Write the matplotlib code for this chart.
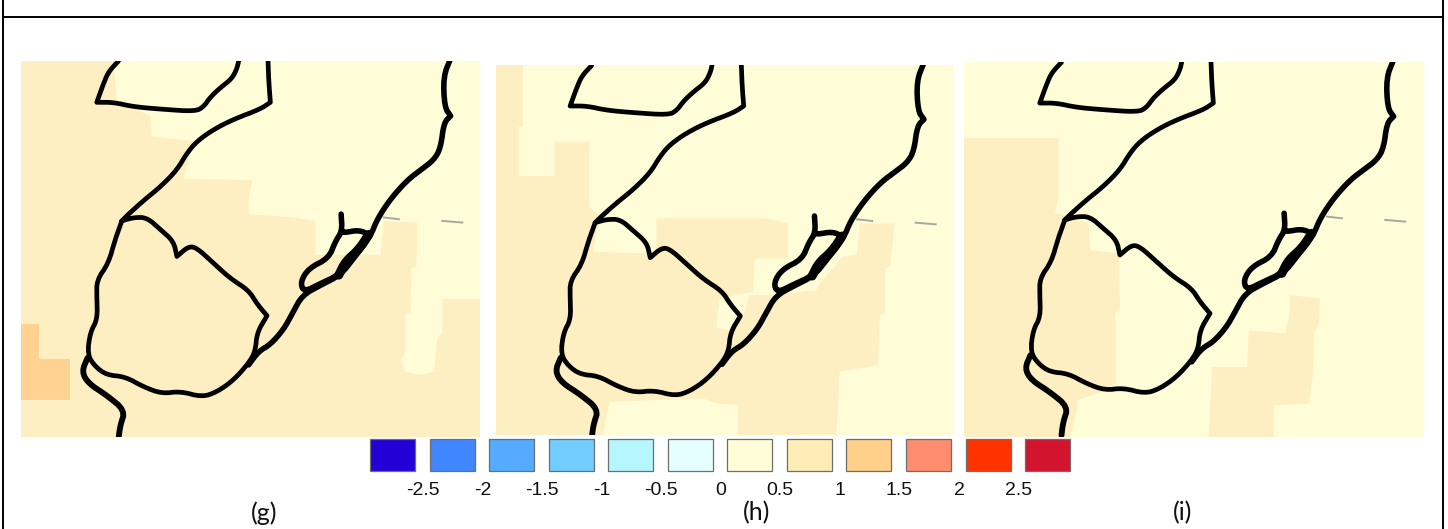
import numpy as np
import matplotlib
matplotlib.use("Agg")
import matplotlib.pyplot as plt

W, H = 1448, 529

# legend
level_labels = ["-2.5", "-2", "-1.5", "-1", "-0.5", "0", "0.5", "1", "1.5", "2", "2.5"]
level_colors = ["#2200D6", "#3F86FF", "#55ABFF", "#71CCFF", "#B5F6FF", "#E5FFFF",
                "#FFFDD8", "#FFEDB8", "#FFD08A", "#FF8C6E", "#FF3300", "#D2142E"]
YELLOW = "#FFFDD8"
TAN = "#FEEFC2"
ORANGE = "#FFD292"

# coastlines, traced in panel g coordinates (repeated points keep a corner sharp)
lake = [(355, 183), (325, 215), (310, 250), (290, 305), (290, 305), (340, 305), (400, 318), (480, 325),
        (585, 332), (610, 318), (630, 290), (660, 262), (695, 235), (710, 205), (715, 183)]
west_coast = [(803, 183), (805, 240), (810, 305), (810, 305), (780, 325), (700, 355), (640, 385), (590, 420),
              (560, 455), (530, 505), (480, 555), (430, 595), (385, 635), (365, 655), (365, 655), (345, 710),
              (325, 780), (290, 830), (290, 880), (292, 945), (270, 985), (262, 1050), (285, 1085),
              (320, 1110), (375, 1115), (430, 1145), (485, 1165), (540, 1158), (605, 1175),
              (650, 1160), (700, 1125), (745, 1075), (765, 1040), (770, 985), (800, 935), (800, 935),
              (770, 900), (745, 860), (690, 825), (640, 780), (590, 735), (565, 730), (530, 760), (530, 760),
              (520, 715), (480, 680), (440, 645), (400, 645), (365, 655)]
south_arm = [(262, 1060), (245, 1100), (265, 1135), (320, 1170), (375, 1215), (360, 1260), (355, 1300)]
east_coast = [(1350, 175), (1328, 230), (1332, 320), (1350, 345), (1350, 345), (1330, 365), (1320, 440),
              (1300, 475), (1260, 505), (1220, 535), (1170, 590), (1130, 650), (1110, 700),
              (1060, 765), (1020, 815), (960, 845), (905, 875), (875, 930), (850, 975),
              (810, 1020), (775, 1040), (745, 1080)]
island = [(1022, 635), (1022, 635), (1025, 685), (1005, 715), (985, 765), (925, 795), (900, 835), (910, 865),
          (960, 840), (1015, 815), (1035, 775), (1075, 740), (1105, 695), (1075, 682), (1030, 690),
          (1025, 685)]
island_thick = [(1105, 695), (1075, 740), (1035, 775), (1015, 815)]
dash_a = [(1150, 645), (1195, 650)]
dash_b = [(1325, 655), (1385, 660)]

# colour patches for each panel, in that panel's own coordinates
g_yellow = [(340, 183), (1438, 183), (1438, 885), (1325, 885), (1325, 985), (1310, 1000), (1300, 1100),
            (1260, 1110), (1215, 1100), (1200, 1070), (1215, 1040), (1215, 930), (1230, 925), (1232, 795),
            (1248, 790), (1250, 660), (1150, 655), (1140, 755),
            (945, 755), (945, 655), (880, 645), (745, 635), (745, 590), (755, 535), (550, 530),
            (580, 420), (455, 405), (450, 345), (350, 300)]
g_orange = [(63, 958), (118, 958), (118, 1062), (210, 1062), (210, 1185), (63, 1185)]
h_tan = [(20, 45), (100, 45), (100, 230), (88, 230), (88, 378), (195, 378), (195, 275), (300, 275),
         (300, 470), (330, 500), (310, 605), (470, 610), (500, 600), (500, 505), (825, 505), (895, 520),
         (895, 625), (795, 625), (790, 725), (690, 745), (680, 832), (725, 840), (760, 800), (780, 735),
         (850, 735), (980, 720), (990, 700), (1060, 620), (1100, 615), (1110, 520), (1215, 520),
         (1200, 650), (1185, 655), (1185, 790), (1170, 795), (1165, 945), (1050, 965), (1040, 1155),
         (745, 1155), (745, 1065),
         (680, 1060), (640, 1045), (360, 1055), (340, 1155), (20, 1155)]
i_tan_west = [(12, 265), (295, 265), (295, 440), (285, 490), (330, 500), (385, 520), (390, 600), (475, 610),
              (480, 780), (465, 790), (465, 1000), (440, 1020), (350, 1050), (355, 1060), (330, 1160),
              (12, 1160)]
i_tan_east = [(990, 735), (1078, 745), (1075, 820), (1060, 850), (1058, 970), (1045, 1060), (940, 1065),
              (940, 1160), (745, 1160), (755, 950), (860, 950), (865, 840), (975, 850), (985, 800)]


def add_axes_px(fig, x0, y0, x1, y1):
    ax = fig.add_axes([x0 / W, 1 - y1 / H, (x1 - x0) / W, (y1 - y0) / H])
    ax.axis("off")
    return ax


# round off the traced corners, the reference lines are hand-smooth
def smooth(pts, rounds=2):
    pts = np.array(pts, dtype=float)
    for _ in range(rounds):
        a = pts[:-1] * 0.75 + pts[1:] * 0.25
        b = pts[:-1] * 0.25 + pts[1:] * 0.75
        mid = np.empty((len(a) * 2, 2))
        mid[0::2] = a
        mid[1::2] = b
        pts = np.vstack([pts[:1], mid, pts[-1:]])
    return pts


def draw_map(ax, base, patches, dx, dy):
    ax.set_facecolor(base)
    ax.axis("on")
    ax.set_xticks([])
    ax.set_yticks([])
    for s in ax.spines.values():
        s.set_visible(False)
    for pts, col in patches:
        pts = np.array(pts)
        ax.fill(pts[:, 0], pts[:, 1], color=col, lw=0)
    for pts in [dash_a, dash_b]:
        pts = np.array(pts)
        ax.plot(pts[:, 0] + dx, pts[:, 1] + dy, color="#A8A8A0", lw=1.4)
    widths = [(lake, 3.4), (west_coast, 3.4), (south_arm, 4.2), (east_coast, 4.0),
              (island, 4.0), (island_thick, 6.5)]
    for pts, lw in widths:
        pts = smooth(pts)
        ax.plot(pts[:, 0] + dx, pts[:, 1] + dy, color="black", lw=lw,
                solid_joinstyle="round", solid_capstyle="round")


fig = plt.figure(figsize=(W / 100, H / 100), dpi=100, facecolor="white")

ax_g = add_axes_px(fig, 21, 61, 480, 437)
ax_g.set_xlim(63, 1438)
ax_g.set_ylim(1293, 183)
draw_map(ax_g, TAN, [(g_yellow, YELLOW), (g_orange, ORANGE)], 0, 0)

ax_h = add_axes_px(fig, 496, 65, 954, 435)
ax_h.set_xlim(20, 1392)
ax_h.set_ylim(1155, 45)
draw_map(ax_h, YELLOW, [(h_tan, TAN)], -48, -137)

ax_i = add_axes_px(fig, 964, 62, 1424, 437)
ax_i.set_xlim(12, 1390)
ax_i.set_ylim(1160, 37)
draw_map(ax_i, YELLOW, [(i_tan_west, TAN), (i_tan_east, TAN)], -51, -145)

# legend boxes and labels
ax_leg = add_axes_px(fig, 370, 439, 1070, 471)
ax_leg.set_xlim(0, 700 / 59.55)
ax_leg.set_ylim(0, 1)
ax_leg.bar(np.arange(len(level_colors)), 1, width=45 / 59.55, align="edge",
           color=level_colors, edgecolor="#6E6E6E", linewidth=0.9, clip_on=False)
for k, lab in enumerate(level_labels):
    ax_leg.text(k + 0.89, -0.6, lab, ha="center", va="center", fontsize=14,
                family="Liberation Sans", color="#111111")

# panel letters and outer frame
overlay = add_axes_px(fig, 0, 0, W, H)
overlay.set_xlim(0, W)
overlay.set_ylim(H, 0)
overlay.patch.set_alpha(0)
for lab, x in zip(["(g)", "(h)", "(i)"], [264, 757, 1183]):
    overlay.text(x, 513, lab, ha="center", va="center", fontsize=18, family="Lato", color="#111111")
overlay.plot([3, 3], [0, H], color="black", lw=1.4)
overlay.plot([1443, 1443], [0, H], color="black", lw=1.4)
overlay.plot([3, 1443], [16.5, 16.5], color="black", lw=1.4)

fig.savefig("out.png", dpi=100)
plt.close(fig)
